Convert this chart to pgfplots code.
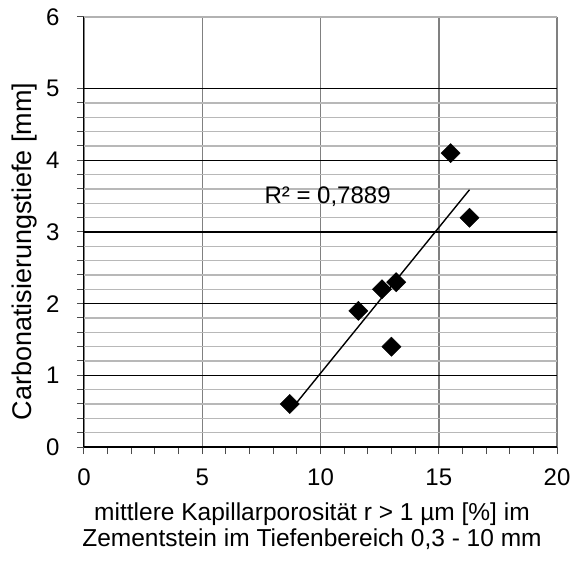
\documentclass[border=0pt]{standalone}
\usepackage{fontspec}
\setmainfont{Liberation Sans}
\usepackage{pgfplots}
\pgfplotsset{compat=1.18}
\usetikzlibrary{calc}
\begin{document}
\begin{tikzpicture}
\begin{axis}[
  scale only axis, width=473pt, height=430pt,
  xmin=0, xmax=20, ymin=0, ymax=6,
  axis lines*=left,
  axis line style={black, line width=1pt},
  xtick={0,5,...,20}, minor x tick num=4,
  ytick={0,...,5}, extra y ticks={6},
  minor y tick num=4,
  tick align=outside,
  major tick length=7pt, minor tick length=7pt,
  every tick/.style={black!70, line width=1pt},
  xmajorgrids, ymajorgrids, yminorgrids,
  major x grid style={draw=black!50, line width=1.5pt},
  major y grid style={draw=black, line width=1.4pt},
  minor y grid style={draw=black!28, line width=1.6pt},
  extra y tick style={major y grid style={draw=black!30, line width=1.6pt}},
  /pgf/number format/assume math mode=true,
  ticklabel style={font=\fontsize{24}{28}\selectfont},
  xticklabel style={yshift=-11pt},
  yticklabel style={xshift=-14pt},
  xlabel={mittlere Kapillarporosität r > 1 µm [\%] im\\Zementstein im Tiefenbereich 0,3 - 10 mm},
  xlabel style={at={(axis description cs:0.482,-0.185)}, anchor=center, align=center, font=\fontsize{24.5}{26}\selectfont},
  ylabel={Carbonatisierungstiefe [mm]},
  ylabel style={at={(axis description cs:-0.125,0.455)}, anchor=center, font=\fontsize{27}{28}\selectfont},
  clip=false,
]
\addplot[only marks, mark=square*, mark size=6.8pt, mark options={rotate=45, fill=black, draw=black}]
  coordinates {(8.7,0.6) (11.6,1.9) (12.6,2.2) (13.2,2.3) (13.0,1.4) (15.5,4.1) (16.3,3.2)};
\addplot[black, line width=1.4pt, no marks] coordinates {(8.7,0.50) (16.3,3.59)};
\node[font=\fontsize{24}{28}\selectfont, anchor=center] at (axis cs:10.3,3.49) {R² = 0,7889};
\end{axis}
\pgfresetboundingbox
\path ($(current axis.south west)+(-84pt,-116pt)$) rectangle ($(current axis.north east)+(14pt,17pt)$);
\end{tikzpicture}
\end{document}
